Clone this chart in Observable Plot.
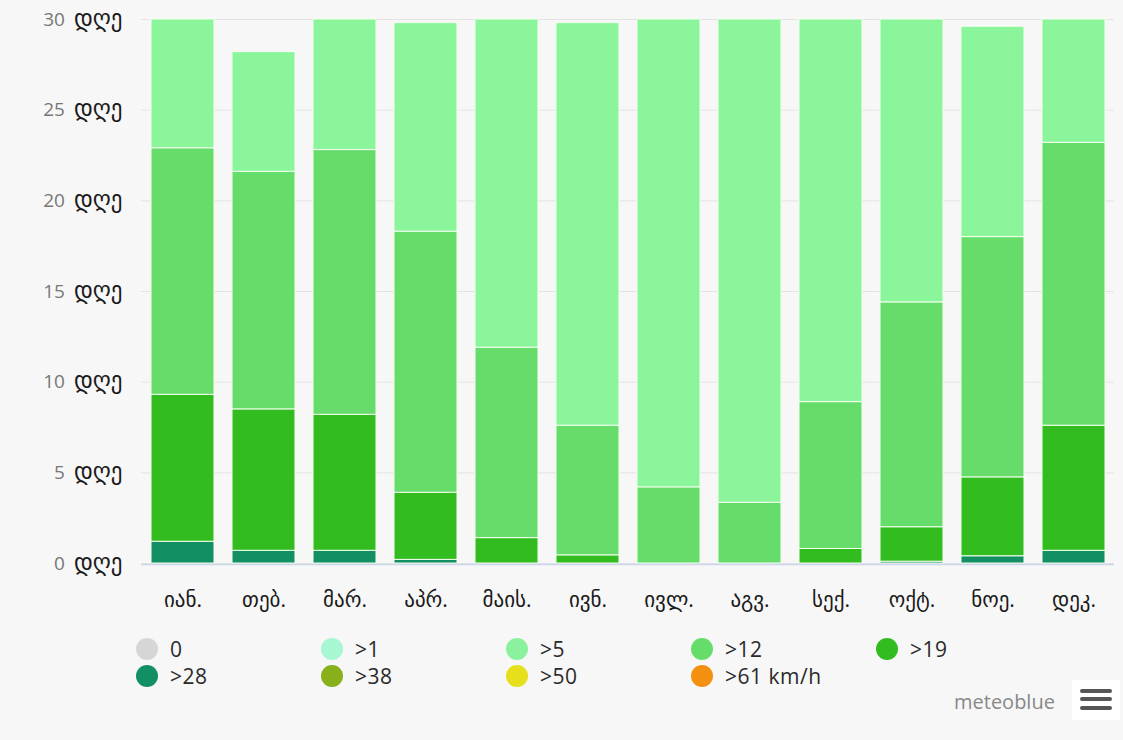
<!DOCTYPE html>
<html>
<head>
<meta charset="utf-8">
<script src="https://cdn.jsdelivr.net/npm/d3@7"></script>
<script src="https://cdn.jsdelivr.net/npm/@observablehq/plot@0.6"></script>
<style>
  html, body { margin: 0; padding: 0; background: #f7f7f7; }
  #wrap { position: relative; width: 1123px; height: 740px; background: #f7f7f7; font-family: "Open Sans", "DejaVu Sans", sans-serif; overflow: hidden; }
  #chart { position: absolute; left: 0; top: 0; }
  .leg { position: absolute; display: flex; align-items: center; font-size: 21px; color: #2a2a2a; line-height: 1; white-space: nowrap; letter-spacing: 0.5px; }
  .leg .dot { width: 22px; height: 22px; border-radius: 50%; margin-right: 12px; }
  #brand { position: absolute; left: 954px; top: 688px; font-size: 20px; color: #888; font-family: "Open Sans", sans-serif; }
  #menu { position: absolute; left: 1072px; top: 680px; width: 48px; height: 40px; background: #fff; }
  #menu span { position: absolute; left: 8px; width: 32px; height: 4px; border-radius: 2px; background: #555; }
</style>
</head>
<body>
<div id="wrap">
  <div id="chart"></div>
  <div id="legend"></div>
  <div id="brand">meteoblue</div>
  <div id="menu"><span style="top:9px"></span><span style="top:17px"></span><span style="top:26px"></span></div>
</div>
<script>
// Month labels (Georgian)
const months = ["იან.", "თებ.", "მარ.", "აპრ.", "მაის.", "ივნ.", "ივლ.", "აგვ.", "სექ.", "ოქტ.", "ნოე.", "დეკ."];
// Stacked series (bottom to top), days per month in each wind-speed class
const seriesNames = [">28", ">19", ">12", ">5"];
const seriesColors = ["#139063", "#33bc1f", "#66dd6a", "#8bf59c"];
const days28 = [1.2, 0.7, 0.7, 0.2, 0, 0, 0, 0, 0, 0.1, 0.4, 0.7];
const days19 = [8.1, 7.8, 7.5, 3.7, 1.4, 0.45, 0, 0, 0.8, 1.9, 4.35, 6.9];
const days12 = [13.6, 13.1, 14.6, 14.4, 10.5, 7.15, 4.2, 3.35, 8.1, 12.4, 13.25, 15.6];
const days5 = [7.1, 6.6, 7.2, 11.5, 18.1, 22.2, 25.8, 26.65, 21.1, 15.6, 11.6, 6.8];
const yTicks = [0, 5, 10, 15, 20, 25, 30];
const dayUnit = "დღე";
// Legend
const legendLabels = ["0", ">1", ">5", ">12", ">19", ">28", ">38", ">50", ">61 km/h"];
const legendColors = ["#d6d6d6", "#a6f7d2", "#8af29e", "#66dd6a", "#33bc1f", "#139063", "#88b01a", "#e6e01a", "#f39010"];

const seriesData = [days28, days19, days12, days5];
const table = [];
seriesData.forEach((arr, si) => {
  arr.forEach((v, mi) => {
    if (v > 0) table.push({month: months[mi], series: seriesNames[si], days: v});
  });
});

const plot = Plot.plot({
  width: 1123,
  height: 620,
  marginTop: 19,
  marginBottom: 57,
  marginLeft: 141,
  marginRight: 9,
  style: {background: "transparent", fontFamily: "'Open Sans', 'DejaVu Sans', sans-serif"},
  x: {domain: months, paddingInner: 0.225, paddingOuter: 0.1, label: null},
  y: {domain: [0, 30], label: null},
  color: {domain: seriesNames, range: seriesColors},
  marks: [
    Plot.gridY(yTicks, {stroke: "#e3e3e3", strokeOpacity: 1}),
    Plot.barY(table, {x: "month", y: "days", fill: "series", stroke: "#f4fff0", strokeWidth: 1}),
    Plot.ruleY([0], {stroke: "#ccd6eb", strokeWidth: 1.5, dy: 1}),
    Plot.axisY(yTicks, {tickSize: 0, tickPadding: 19, tickFormat: d => `${d} ${dayUnit}`, fontSize: 19, label: null}),
    Plot.axisX({tickSize: 0, tickPadding: 29, fontSize: 21, fill: "#1a1a1a", label: null})
  ]
});

// two-tone y tick labels: grey number, dark unit
d3.select(plot).selectAll('g[aria-label="y-axis tick label"] text').each(function() {
  const t = this.textContent;
  const i = t.indexOf(" ");
  const num = t.slice(0, i), unit = t.slice(i + 1);
  const sel = d3.select(this);
  sel.text(null);
  sel.append("tspan").attr("fill", "#777").text(num + " ");
  sel.append("tspan").attr("fill", "#1a1a1a").attr("font-size", 23).attr("dx", 4).text(unit);
});

document.getElementById("chart").appendChild(plot);

// legend grid: 5 columns, 2 rows
const legend = document.getElementById("legend");
legendLabels.forEach((lab, i) => {
  const col = i % 5, row = Math.floor(i / 5);
  const el = document.createElement("div");
  el.className = "leg";
  el.style.left = (136 + col * 185) + "px";
  el.style.top = (638 + row * 27) + "px";
  const dot = document.createElement("div");
  dot.className = "dot";
  dot.style.background = legendColors[i];
  const txt = document.createElement("span");
  txt.textContent = lab;
  el.appendChild(dot);
  el.appendChild(txt);
  legend.appendChild(el);
});
</script>
</body>
</html>
